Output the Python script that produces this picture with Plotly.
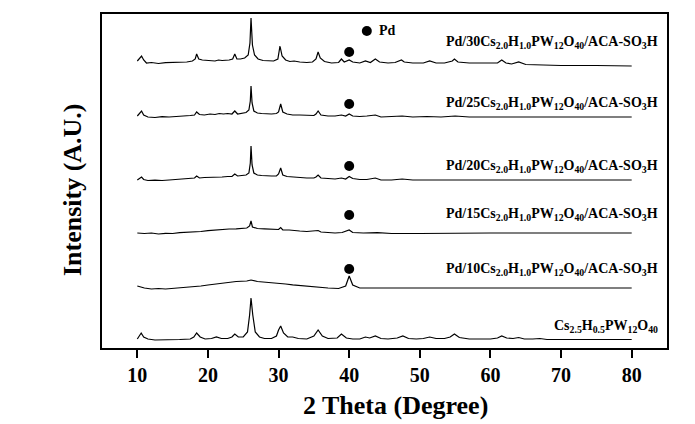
import plotly.graph_objects as go

# XRD patterns: (2theta, intensity above the curve's own baseline)
pts_30 = [(10.0, 2), (10.3, 4), (10.6, 7), (10.9, 3), (11.3, 0), (12, 0.5), (13, -0.5), (14, 0.3), (15, 0.5),
          (16, 0.2), (17, 1), (17.8, 2), (18.2, 4), (18.4, 9), (18.7, 4), (19.2, 3), (20, 2.5), (21, 2),
          (21.5, 3), (22, 2.5), (23, 3), (23.5, 4), (23.8, 9), (24.1, 4), (24.6, 4), (25.2, 5), (25.7, 8),
          (25.95, 20), (26.1, 45), (26.3, 18), (26.6, 8), (27.1, 4), (27.8, 2.5), (28.5, 2), (29.3, 2),
          (29.9, 4), (30.2, 17), (30.5, 7), (31, 3), (31.6, 1.5), (32.2, 2), (33, 1), (34, 0.5), (34.8, 1),
          (35.3, 4), (35.6, 11), (35.9, 5), (36.5, 1.5), (37.5, 0), (38.5, 0.5), (38.9, 4), (39.3, 1),
          (40.0, 3), (40.5, 1), (41.5, 0), (42.3, 2), (43, 0.5), (43.7, 4), (44.3, 1), (45.5, 0), (46.5, 0.5),
          (47.4, 3), (47.8, 1), (49, 0), (50.5, 0), (51.4, 2), (52.3, 0), (53.5, 0), (54.6, 2), (54.9, 4),
          (55.4, 1), (57, 0), (59, 0), (61, 0), (61.6, 3), (62.2, 0), (63, -1), (64, 1), (65, -1.5),
          (67, -2), (70, -2.5), (75, -2.5), (80, -3)]

pts_25 = [(10.0, 1), (10.3, 3), (10.6, 6), (10.9, 2), (11.5, 0), (12.5, -0.5), (13.5, 0.3), (14.5, 0),
          (15.5, 0.8), (16.5, 1), (17.5, 1.5), (18.1, 2), (18.4, 5), (18.8, 2.5), (19.5, 2), (20.3, 3),
          (21, 2.5), (21.6, 3.5), (22.2, 3), (22.8, 3.5), (23.4, 3), (23.8, 6), (24.2, 3), (24.8, 4),
          (25.4, 4.5), (25.8, 7), (26.0, 16), (26.1, 31), (26.25, 14), (26.5, 6), (27, 4), (27.6, 3.5),
          (28.3, 3), (29, 3), (29.7, 3.5), (30.0, 5), (30.3, 13), (30.6, 5), (31.2, 3), (32, 2), (33, 2),
          (34, 1.5), (35, 1.5), (35.3, 3), (35.6, 6), (36, 2), (37, 1), (38, 1), (38.9, 2), (39.5, 1),
          (40.0, 3), (40.5, 1), (41.5, 0.5), (42.5, 1), (43.7, 2), (44.5, 0), (46, 0.5), (47.5, 1), (49, 0),
          (51, 0.5), (53, 0), (55, 1), (57, 0), (60, 0), (62, 0.5), (65, 0), (70, 0), (75, 0), (80, 0)]

pts_20 = [(10.0, 0), (10.3, 1.5), (10.6, 3), (10.9, 0.5), (11.5, -0.5), (12.5, -0.2), (13.5, -0.5), (14.5, 0),
          (15.5, 0.5), (16.5, 1), (17.5, 1.5), (18.1, 2), (18.4, 4), (18.8, 2), (19.5, 2.5), (20.5, 2.5),
          (21.2, 3), (22, 3), (22.8, 3.5), (23.4, 3.5), (23.8, 6), (24.2, 4), (24.8, 4.5), (25.4, 5),
          (25.8, 7), (26.0, 17), (26.1, 34), (26.25, 15), (26.5, 7), (27, 5), (27.6, 4.5), (28.3, 4), (29, 4),
          (29.7, 4), (30.0, 6), (30.3, 12), (30.6, 5), (31.2, 3.5), (32, 3), (33, 2.5), (34, 2), (35, 2),
          (35.3, 3), (35.6, 5), (36, 2), (37, 1.5), (38, 1), (38.9, 2), (39.5, 1), (40.0, 3.5), (40.5, 1.5),
          (41.5, 0.5), (42.5, 0.5), (43.7, 2), (44.5, 0), (46, 0), (47.5, 1), (49, 0), (51, 0), (53, 0),
          (55, 0.5), (57, 0), (60, 0), (65, 0), (70, 0), (75, 0), (80, 0)]

pts_15 = [(10.0, 0), (11, -0.5), (12, 0), (13, -1), (14, -0.3), (15, -0.5), (16, 0.3), (17, 0.5), (18, 1.2),
          (19, 1.5), (20, 2.3), (21, 3), (22, 3.3), (23, 4), (24, 4.2), (24.5, 4.5), (25.5, 5), (25.9, 7),
          (26.1, 12), (26.3, 6), (27, 4.5), (28, 4.2), (28.5, 4), (29.5, 3.8), (30, 3.5), (30.3, 5.5),
          (30.6, 3), (31.5, 3), (32, 2.5), (33, 2), (34, 1.5), (35.6, 2.5), (36, 1), (37, 0.5), (38, 0),
          (39, 0.5), (40, 3), (40.5, 0.5), (42, 0), (44, 0.3), (46, -0.5), (50, -0.5), (55, 0), (60, 0),
          (65, 0), (70, 0), (75, 0), (80, 0)]

pts_10 = [(10.0, 2), (11, 0), (12, -1), (13, -0.5), (14, -1), (15, -0.5), (16, 0), (17, 0.8), (18, 1.5),
          (19, 2), (20, 3), (21, 3.8), (22, 5), (23, 5.5), (24, 6.5), (25.5, 7), (26.1, 8), (27, 6.5),
          (28, 6), (29, 5.5), (30, 4.8), (31, 4), (32, 3.2), (33, 2.5), (34, 1.8), (35, 1), (36, 0.5),
          (37, 0), (38.5, -0.5), (39.5, 2), (40.0, 12), (40.5, 3), (41.5, 0), (43, 0), (46, 0), (50, 0),
          (55, 0), (60, 0), (65, 0), (70, 0), (75, 0), (80, 0)]

pts_cs = [(10.0, 1), (10.3, 4), (10.55, 7), (10.9, 3), (11.5, 1), (12.5, 0), (14, 0), (16, 0.5), (17.5, 1),
          (18.0, 3), (18.4, 7), (18.9, 3), (19.6, 1), (20.5, 1.5), (21.2, 3), (21.9, 1.5), (22.8, 1.5),
          (23.4, 3), (23.8, 6), (24.3, 3), (25.0, 3), (25.6, 8), (25.9, 25), (26.1, 42), (26.35, 25),
          (26.7, 8), (27.3, 3), (28, 1.5), (29, 1.5), (29.7, 4), (30.0, 10), (30.3, 14), (30.7, 7),
          (31.3, 3), (32.0, 3), (32.8, 1.5), (34, 1), (35.0, 4), (35.6, 10), (36.2, 4), (37, 1.5),
          (38.3, 2), (38.9, 6), (39.6, 2), (40.5, 1), (41.5, 1), (42.3, 3), (42.9, 2), (43.7, 4),
          (44.5, 1.5), (45.5, 1), (46.8, 2), (47.6, 4), (48.4, 1.5), (49.5, 1), (50.5, 1.5), (51.4, 3),
          (52.3, 1.5), (53.5, 1.5), (54.3, 3), (54.9, 6), (55.6, 2.5), (57, 1), (58.5, 1), (60, 1), (61, 2),
          (61.6, 4), (62.3, 2), (63.2, 1.5), (64, 2.5), (64.8, 1), (66, 1), (67, 1.5), (68, 0.5), (70, 0.5),
          (72, 0.5), (75, 0.5), (78, 0.5), (80, 0.5)]

series = [pts_30, pts_25, pts_20, pts_15, pts_10, pts_cs]
offsets = [285, 231, 168, 115, 60, 8]
labels = ["Pd/30Cs<sub>2.0</sub>H<sub>1.0</sub>PW<sub>12</sub>O<sub>40</sub>/ACA-SO<sub>3</sub>H",
          "Pd/25Cs<sub>2.0</sub>H<sub>1.0</sub>PW<sub>12</sub>O<sub>40</sub>/ACA-SO<sub>3</sub>H",
          "Pd/20Cs<sub>2.0</sub>H<sub>1.0</sub>PW<sub>12</sub>O<sub>40</sub>/ACA-SO<sub>3</sub>H",
          "Pd/15Cs<sub>2.0</sub>H<sub>1.0</sub>PW<sub>12</sub>O<sub>40</sub>/ACA-SO<sub>3</sub>H",
          "Pd/10Cs<sub>2.0</sub>H<sub>1.0</sub>PW<sub>12</sub>O<sub>40</sub>/ACA-SO<sub>3</sub>H",
          "Cs<sub>2.5</sub>H<sub>0.5</sub>PW<sub>12</sub>O<sub>40</sub>"]
label_y = [306, 245, 182, 134, 79, 22]

# Pd reflection markers (x = 40 deg) on the Pd-loaded samples
pd_x = [40, 40, 40, 40, 40]
pd_y = [296, 244, 182, 133, 79]

FONT = "Liberation Serif"

fig = go.Figure()

for pts, off in zip(series, offsets):
    fig.add_trace(go.Scatter(
        x=[p[0] for p in pts], y=[p[1] + off for p in pts],
        mode="lines", line=dict(color="black", width=1.2), showlegend=False))

fig.add_trace(go.Scatter(x=pd_x, y=pd_y, mode="markers",
                         marker=dict(color="black", size=10), showlegend=False))
# legend dot for Pd
fig.add_trace(go.Scatter(x=[42.5], y=[317], mode="markers",
                         marker=dict(color="black", size=10), showlegend=False))
fig.add_annotation(x=44.0, y=318, text="Pd", showarrow=False, xanchor="left",
                   font=dict(family=FONT, size=14, color="black", weight="bold"))

for txt, yy in zip(labels, label_y):
    fig.add_annotation(x=84, y=yy, text=txt, showarrow=False, xanchor="right",
                       font=dict(family=FONT, size=14, color="black", weight="bold"))

# axis titles as annotations (they sit a little off-centre in the reference)
title_font = dict(family=FONT, size=26, color="black", weight="bold")
fig.add_annotation(text="2 Theta (Degree)", xref="paper", yref="paper", x=0.52, y=-0.171,
                   xanchor="center", yanchor="middle", showarrow=False, font=title_font)
fig.add_annotation(text="Intensity (A.U.)", xref="paper", yref="paper", x=-0.053, y=0.473,
                   xanchor="center", yanchor="middle", textangle=-90, showarrow=False, font=title_font)

# the page body adds an 8px margin, so the plot box is pulled up/left by 8px
fig.update_layout(
    width=695, height=424,
    margin=dict(l=94, r=36, t=6, b=84, autoexpand=False),
    plot_bgcolor="white", paper_bgcolor="white",
    xaxis=dict(
        range=[5, 85], tickvals=[10, 20, 30, 40, 50, 60, 70, 80],
        ticks="outside", ticklen=8, tickwidth=1.5, tickcolor="black",
        showline=True, linecolor="black", linewidth=1.5, mirror=True,
        showgrid=False, zeroline=False, automargin=False,
        tickfont=dict(family=FONT, size=20, color="black", weight="bold"),
    ),
    yaxis=dict(
        range=[0, 334], showticklabels=False, ticks="",
        showline=True, linecolor="black", linewidth=1.5, mirror=True,
        showgrid=False, zeroline=False, automargin=False,
    ),
)

fig.write_html("out.html")
